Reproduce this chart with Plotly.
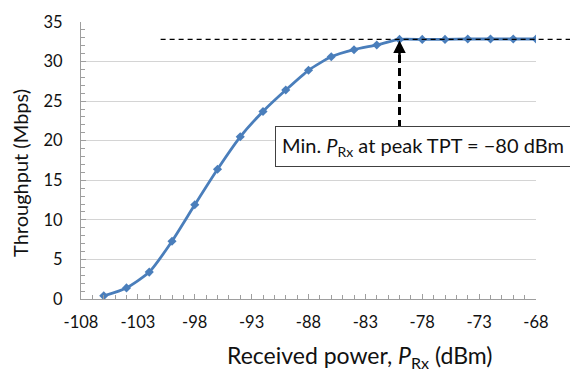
import plotly.graph_objects as go

rx_power = [-106, -104, -102, -100, -98, -96, -94, -92, -90, -88,
            -86, -84, -82, -80, -78, -76, -74, -72, -70, -68]
throughput = [0.4, 1.4, 3.4, 7.3, 11.9, 16.4, 20.5, 23.7, 26.4, 28.9,
              30.6, 31.5, 32.1, 32.8, 32.8, 32.8, 32.85, 32.85, 32.85, 32.85]

x_tickvals = [-108, -103, -98, -93, -88, -83, -78, -73, -68]
x_ticktext = ["-108", "-103", "-98", "-93", "-88", "-83", "-78", "-73", "-68"]

x_range = [-108, -68]
y_range = [0, 35]
peak_tpt = 32.8
min_prx = -80
hline_start = -101
label_text = "Min. <i>P</i><sub>Rx</sub> at peak TPT = \u221280 dBm"
x_title = "Received power, <i>P</i><sub>Rx</sub> (dBm)"
y_title = "Throughput (Mbps)"

FONT = "Lato, Carlito, Calibri, sans-serif"
BLUE = "#4a7ebb"
TXT = "#111111"

def xp(v):
    return (v - x_range[0]) / (x_range[1] - x_range[0])

fig = go.Figure()
fig.add_trace(go.Scatter(
    x=rx_power, y=throughput, mode="lines+markers",
    line=dict(color=BLUE, width=2.8, shape="spline", smoothing=0.6),
    marker=dict(symbol="diamond", size=7, color=BLUE),
    showlegend=False, hoverinfo="skip"))

# horizontal dashed line at peak throughput (extends past right edge)
fig.add_shape(type="line", xref="paper", yref="y",
              x0=xp(hline_start), x1=1.08, y0=peak_tpt, y1=peak_tpt,
              line=dict(color="black", width=1.3, dash="5px,4px"), layer="above")

# vertical dashed shaft
fig.add_shape(type="line", xref="x", yref="y",
              x0=min_prx, x1=min_prx, y0=21.6, y1=31.2,
              line=dict(color="black", width=3, dash="8px,5px"), layer="above")

# arrow head
fig.add_annotation(x=min_prx, y=peak_tpt, xref="x", yref="y",
                   ax=min_prx, ay=30.6, axref="x", ayref="y",
                   showarrow=True, arrowhead=2, arrowsize=1, arrowwidth=2.5,
                   arrowcolor="black", text="", standoff=1)

# label box
fig.add_annotation(x=-77.9, y=19.3, xref="x", yref="y",
                   text=label_text, showarrow=False,
                   font=dict(family=FONT, size=20, color=TXT),
                   bgcolor="white", bordercolor="#404040", borderwidth=1,
                   borderpad=6)

# axis titles (positioned as in the reference)
fig.add_annotation(x=0.613, y=-0.208, xref="paper", yref="paper",
                   text=x_title, showarrow=False, xanchor="center", yanchor="middle",
                   font=dict(family=FONT, size=23, color=TXT))
fig.add_annotation(x=-0.134, y=0.455, xref="paper", yref="paper",
                   text=y_title, showarrow=False, textangle=-90,
                   xanchor="center", yanchor="middle",
                   font=dict(family=FONT, size=20, color=TXT))

fig.update_layout(
    width=570, height=373,
    margin=dict(l=81, r=34, t=15, b=74),
    plot_bgcolor="white", paper_bgcolor="white",
    font=dict(family=FONT, size=16.5, color=TXT),
    xaxis=dict(range=x_range, tickvals=x_tickvals, ticktext=x_ticktext,
               showgrid=False,
               showline=True, linecolor="#9e9e9e", linewidth=1,
               ticks="inside", ticklen=5, tickcolor="#9e9e9e",
               minor=dict(dtick=1, tick0=-108, ticks="inside", ticklen=4,
                          tickcolor="#9e9e9e"),
               ticklabelstandoff=8, zeroline=False),
    yaxis=dict(range=y_range, dtick=5, showgrid=True, gridcolor="#d4d4d4",
               gridwidth=1.2,
               showline=True, linecolor="#9e9e9e", linewidth=1,
               ticks="inside", ticklen=5, tickcolor="#9e9e9e",
               minor=dict(dtick=1, ticks="inside", ticklen=4, tickcolor="#9e9e9e"),
               ticklabelstandoff=14, zeroline=False),
)

fig.write_html("out.html")
